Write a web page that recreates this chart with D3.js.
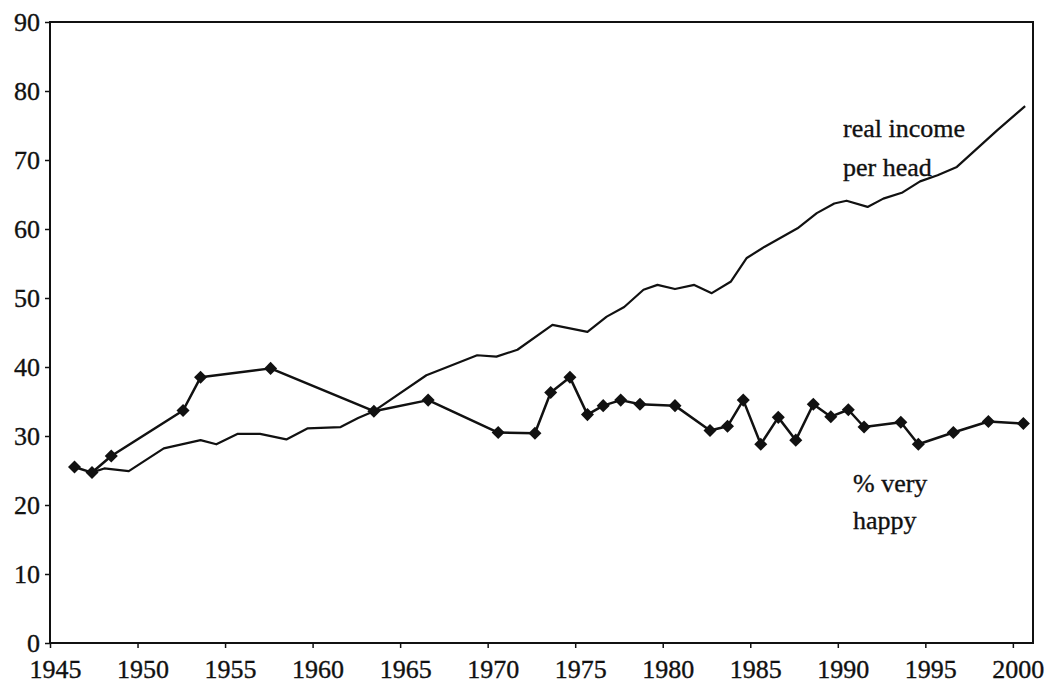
<!DOCTYPE html>
<html>
<head>
<meta charset="utf-8">
<script src="https://cdn.jsdelivr.net/npm/d3@7"></script>
<style>
  body { margin: 0; background: #fff; }
  svg text { font-family: "Liberation Serif", "DejaVu Serif", serif; fill: #111; stroke: #111; stroke-width: 0.35px; }
</style>
</head>
<body>
<div id="chart"></div>
<script>
// tick labels
var xTicks = [1945, 1950, 1955, 1960, 1965, 1970, 1975, 1980, 1985, 1990, 1995, 2000];
var yTicks = [0, 10, 20, 30, 40, 50, 60, 70, 80, 90];

// % very happy (survey points)
var happyYears = [1946.4, 1947.4, 1948.5, 1952.6, 1953.6, 1957.6, 1963.5, 1966.6, 1970.6, 1972.7,
  1973.6, 1974.7, 1975.7, 1976.6, 1977.6, 1978.7, 1980.7, 1982.7, 1983.7, 1984.6,
  1985.6, 1986.6, 1987.6, 1988.6, 1989.6, 1990.6, 1991.5, 1993.6, 1994.6, 1996.6,
  1998.6, 2000.6];
var happyValues = [25.5, 24.7, 27.1, 33.7, 38.5, 39.8, 33.6, 35.2, 30.5, 30.4,
  36.3, 38.5, 33.1, 34.4, 35.2, 34.6, 34.4, 30.8, 31.4, 35.2,
  28.8, 32.7, 29.4, 34.6, 32.8, 33.8, 31.3, 32.0, 28.8, 30.5,
  32.1, 31.8];

// real income per head
var incomeYears = [1947.5, 1948.1, 1949.5, 1951.5, 1953.6, 1954.5, 1955.7, 1957.0, 1958.5, 1959.7,
  1961.6, 1962.6, 1963.5, 1966.5, 1967.7, 1969.4, 1970.5, 1971.7, 1973.7, 1975.7,
  1976.8, 1977.8, 1978.9, 1979.7, 1980.7, 1981.8, 1982.8, 1983.9, 1984.8, 1985.8,
  1987.7, 1988.8, 1989.8, 1990.5, 1991.7, 1992.6, 1993.7, 1994.7, 1995.7, 1996.8,
  1999.1, 2000.7];
var incomeValues = [24.8, 25.3, 24.9, 28.2, 29.4, 28.8, 30.3, 30.3, 29.5, 31.1,
  31.3, 32.6, 33.6, 38.8, 40.0, 41.7, 41.5, 42.5, 46.1, 45.1,
  47.3, 48.7, 51.2, 51.9, 51.3, 51.9, 50.7, 52.4, 55.8, 57.4,
  60.1, 62.3, 63.7, 64.1, 63.2, 64.4, 65.3, 66.9, 67.8, 69.0,
  74.3, 77.8];

var width = 1050, height = 684;
var plotLeft = 50, plotRight = 1033, plotTop = 22, plotBottom = 643;

var svg = d3.select('#chart').append('svg')
  .attr('width', width)
  .attr('height', height);

var x = d3.scaleLinear().domain([1945, 2001.15]).range([plotLeft, plotRight]);
var y = d3.scaleLinear().domain([0, 90]).range([plotBottom, plotTop]);

// frame
svg.append('rect')
  .attr('x', plotLeft).attr('y', plotTop)
  .attr('width', plotRight - plotLeft).attr('height', plotBottom - plotTop)
  .attr('fill', 'none').attr('stroke', '#111').attr('stroke-width', 2);

// axes
var xAxis = svg.append('g')
  .attr('transform', 'translate(0,' + plotBottom + ')')
  .call(d3.axisBottom(x).tickValues(xTicks).tickFormat(d3.format('d')).tickSize(5).tickSizeOuter(0));
xAxis.select('.domain').remove();
xAxis.selectAll('line').attr('stroke', '#111').attr('stroke-width', 1.5);
xAxis.selectAll('text')
  .attr('y', 0).attr('dy', 35).attr('dx', 5)
  .style('font-size', '26px');

var yAxis = svg.append('g')
  .attr('transform', 'translate(' + plotLeft + ',0)')
  .call(d3.axisLeft(y).tickValues(yTicks).tickSize(5).tickSizeOuter(0));
yAxis.select('.domain').remove();
yAxis.selectAll('line').attr('stroke', '#111').attr('stroke-width', 1.5);
yAxis.selectAll('text')
  .attr('x', -10).attr('dy', '0.34em')
  .style('font-size', '26px');

var line = d3.line()
  .x(function (d) { return x(d[0]); })
  .y(function (d) { return y(d[1]); });

var income = d3.zip(incomeYears, incomeValues);
var happy = d3.zip(happyYears, happyValues);

// income line
svg.append('path')
  .datum(income)
  .attr('d', line)
  .attr('fill', 'none')
  .attr('stroke', '#111')
  .attr('stroke-width', 2.2)
  .attr('stroke-linejoin', 'round');

// happiness line + diamonds
svg.append('path')
  .datum(happy)
  .attr('d', line)
  .attr('fill', 'none')
  .attr('stroke', '#111')
  .attr('stroke-width', 2.5)
  .attr('stroke-linejoin', 'round');

var diamond = d3.symbol().type(d3.symbolSquare).size(85);
svg.append('g').selectAll('path')
  .data(happy)
  .enter().append('path')
  .attr('d', diamond)
  .attr('transform', function (d) { return 'translate(' + x(d[0]) + ',' + y(d[1]) + ') rotate(45)'; })
  .attr('fill', '#111');

// series labels
var labels = svg.append('g').style('font-size', '26px');
labels.append('text').attr('x', 843).attr('y', 137).text('real income');
labels.append('text').attr('x', 843).attr('y', 176).text('per head');
labels.append('text').attr('x', 853).attr('y', 492).text('% very');
labels.append('text').attr('x', 853).attr('y', 529).text('happy');
</script>
</body>
</html>
